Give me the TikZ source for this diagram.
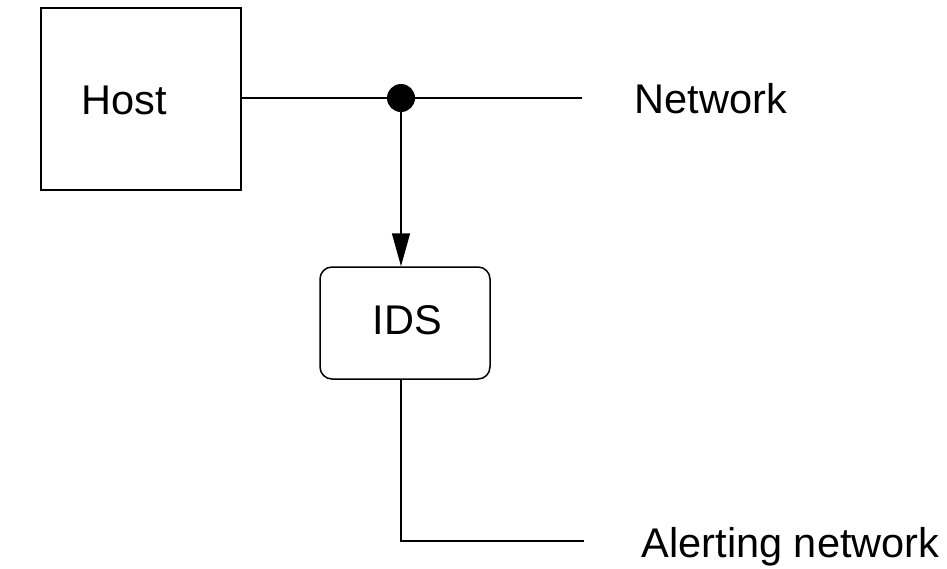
\documentclass[tikz,border=0pt]{standalone}
\usepackage{fontspec}
\setmainfont{Liberation Sans}
\usetikzlibrary{arrows.meta}

\begin{document}
\begin{tikzpicture}[x=1pt,y=-1pt,line width=1.5pt,
    box/.style={draw,minimum width=200pt,minimum height=182pt,inner sep=0pt},
    idsbox/.style={draw,rounded corners=12pt,minimum width=170pt,minimum height=112pt,inner sep=0pt},
    lbl/.style={anchor=west,inner sep=0pt},
    txt/.style={font=\fontsize{41.5}{48}\selectfont}]
  \useasboundingbox (0,0) rectangle (947,568);
  % Host and the network line
  \node[box,label={[txt,xshift=-17pt,yshift=-1pt]center:Host}] (host) at (141,99) {};
  \coordinate (tap) at (401,98);
  \coordinate (netend) at (582,98);
  \node[lbl,txt] (net) at (634,99) {Network};
  \draw (host.east |- tap) -- (netend);
  \fill (tap) circle (14pt);
  % IDS sensor
  \node[idsbox,label={[txt,xshift=2.5pt,yshift=3pt]center:IDS}] (ids) at (405,323) {};
  \draw[-{Triangle[length=33pt,width=18pt]}] (tap) -- (tap |- ids.north);
  % Alerting network
  \coordinate (alertcorner) at (401,541);
  \coordinate (alertend) at (584,541);
  \node[lbl,txt] (alert) at (641,547) {Alerting network};
  \draw (tap |- ids.south) -- (alertcorner) -- (alertend);
\end{tikzpicture}
\end{document}
